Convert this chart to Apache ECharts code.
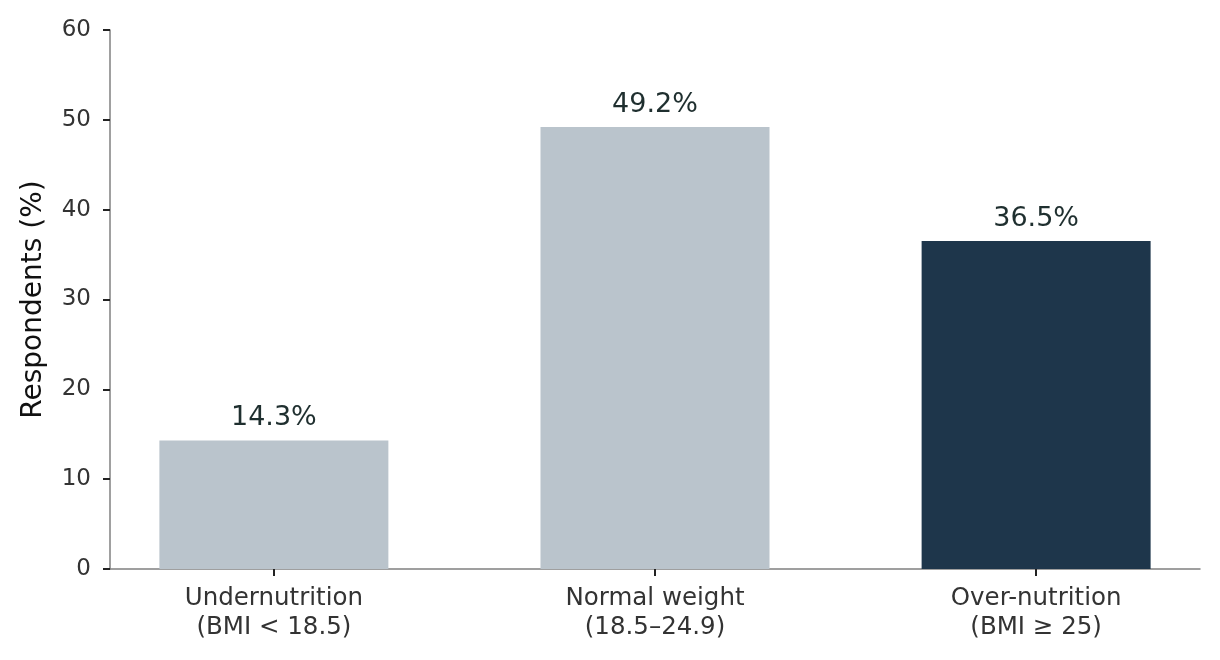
<!DOCTYPE html>
<html lang="en">
<head>
    <meta charset="UTF-8">
    <title>BMI categories</title>
    <script src="https://cdn.jsdelivr.net/npm/echarts@6/dist/echarts.min.js"></script>
    <style>
        html, body { margin: 0; padding: 0; background: #fff; }
        #chart { width: 1220px; height: 660px; }
    </style>
</head>
<body>
<div id="chart"></div>
<script>
    // data
    var categories = ['Undernutrition\n(BMI < 18.5)', 'Normal weight\n(18.5–24.9)', 'Over-nutrition\n(BMI ≥ 25)'];
    var shares = [14.3, 49.2, 36.5];
    var barColors = ['#bac4cc', '#bac4cc', '#1e364b'];
    var positions = [0, 1, 2];

    var chart = echarts.init(document.getElementById('chart'));
    var font = 'DejaVu Sans';

    var option = {
        animation: false,
        grid: { left: 110, right: 20, top: 30, bottom: 91, containLabel: false },
        xAxis: {
            // value axis so the bars get the same side padding as the original
            type: 'value',
            min: -0.43,
            max: 2.43,
            splitLine: { show: false },
            axisLine: { lineStyle: { color: '#808080', width: 1.5 } },
            axisTick: { customValues: positions, length: 7, lineStyle: { color: '#222', width: 2 } },
            axisLabel: {
                customValues: positions,
                formatter: function (v) { return categories[Math.round(v)]; },
                color: '#333', fontFamily: font, fontSize: 24.5, margin: 15, lineHeight: 29
            }
        },
        yAxis: {
            type: 'value',
            min: 0,
            max: 60,
            interval: 10,
            name: 'Respondents (%)',
            nameLocation: 'middle',
            nameGap: 62,
            nameTextStyle: { color: '#111', fontFamily: font, fontSize: 28 },
            splitLine: { show: false },
            axisLine: { show: true, onZero: false, lineStyle: { color: '#808080', width: 1.5 } },
            axisTick: { show: true, length: 7, lineStyle: { color: '#222', width: 2 } },
            axisLabel: { color: '#333', fontFamily: font, fontSize: 23, margin: 19 }
        },
        series: [{
            type: 'bar',
            barWidth: 229,
            data: shares.map(function (v, i) {
                return { value: [positions[i], v], itemStyle: { color: barColors[i] } };
            }),
            label: {
                show: true,
                position: 'top',
                distance: 9,
                formatter: function (p) { return p.value[1] + '%'; },
                color: '#1f2f2f',
                fontFamily: font,
                fontSize: 27
            }
        }]
    };

    chart.setOption(option);
</script>
</body>
</html>
